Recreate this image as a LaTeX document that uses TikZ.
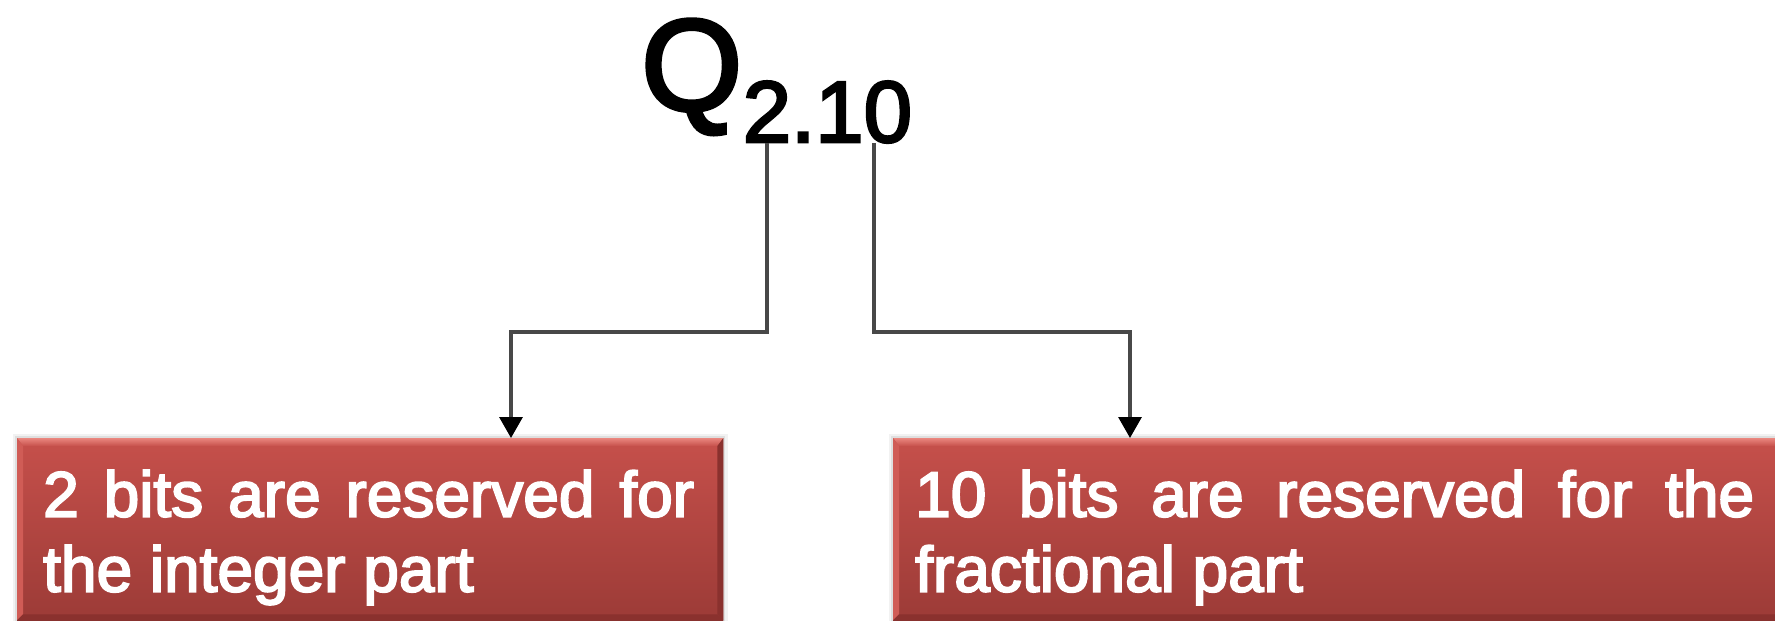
\documentclass[tikz,border=0pt]{standalone}
\usepackage{fontspec}
\setmainfont{Liberation Sans}
\newfontfamily\heavysans{Liberation Sans}[FakeBold=3]
\usetikzlibrary{arrows.meta,calc}

\definecolor{faceTop}{RGB}{198,80,75}
\definecolor{faceBot}{RGB}{156,59,55}
\definecolor{bevelLight}{RGB}{234,135,127}
\definecolor{bevelSide}{RGB}{208,92,86}
\definecolor{bevelDark}{RGB}{138,49,46}
\definecolor{wire}{RGB}{72,72,72}

\tikzset{
  x=1pt, y=-1pt,
  redbox/.style={anchor=north west, inner sep=0pt, minimum height=182pt,
    top color=faceTop, bottom color=faceBot, draw=none},
  boxtext/.style={anchor=north west, inner sep=0pt, text=white, align=justify,
    font=\heavysans\fontsize{64}{75}\selectfont,
    execute at begin node={\hyphenpenalty=10000 \tolerance=10000 \relax}},
  wireline/.style={draw=wire, line width=3.2pt,
    -{Triangle[width=23pt,length=21pt,black]}},
  qfont/.style={anchor=base west, inner sep=0pt,
    font=\heavysans\fontsize{130}{130}\selectfont},
  subfont/.style={anchor=base west, inner sep=0pt,
    font=\heavysans\fontsize{87}{87}\selectfont},
}

% bevelled edges and soft outline of a red box node
\newcommand{\bevelbox}[1]{%
  \draw[black, opacity=0.05, line width=9pt] (#1.north west) rectangle (#1.south east);
  \draw[black, opacity=0.08, line width=4pt] (#1.north west) rectangle (#1.south east);
  \shade[top color=bevelLight, bottom color=faceTop]
    (#1.north west) -- (#1.north east) -- ($(#1.north east)+(-6,8)$)
    -- ($(#1.north west)+(6,8)$) -- cycle;
  \fill[bevelSide]
    (#1.north west) -- ($(#1.north west)+(6,8)$) -- ($(#1.south west)+(6,-6)$)
    -- (#1.south west) -- cycle;
  \fill[bevelDark]
    (#1.north east) -- ($(#1.north east)+(-6,8)$) -- ($(#1.south east)+(-6,-6)$)
    -- (#1.south east) -- cycle;
  \fill[bevelDark]
    (#1.south west) -- ($(#1.south west)+(6,-6)$) -- ($(#1.south east)+(-6,-6)$)
    -- (#1.south east) -- cycle;
}

\begin{document}
\begin{tikzpicture}
  \useasboundingbox (0,0) rectangle (1775,621);
  \clip (0,0) rectangle (1775,621);
  \fill[white] (0,0) rectangle (1775,621);

  % format label
  \node[qfont] (qsym) at (641,110) {Q};
  \node[subfont] (qsub) at ($(qsym.base east)+(0,32)$) {2.10};

  % boxes
  \node[redbox, minimum width=706pt] (intbox) at (17,438) {};
  \node[redbox, minimum width=888pt] (fracbox) at (893,438) {};
  \bevelbox{intbox}
  \bevelbox{fracbox}

  \node[boxtext, text width=651pt] (inttext) at (43,470)
    {2 bits are reserved for\linebreak the integer part};
  \node[boxtext, text width=839pt] (fractext) at (915,470)
    {10 bits are reserved for the\linebreak fractional part};

  % connectors
  \coordinate (intTap) at (767,143);
  \coordinate (fracTap) at (874,143);
  \coordinate (intBend) at (511,332);
  \coordinate (fracBend) at (1130,332);

  \draw[wireline] (intTap) |- (intBend) -- (intBend |- intbox.north);
  \draw[wireline] (fracTap) |- (fracBend) -- (fracBend |- fracbox.north);
\end{tikzpicture}
\end{document}
